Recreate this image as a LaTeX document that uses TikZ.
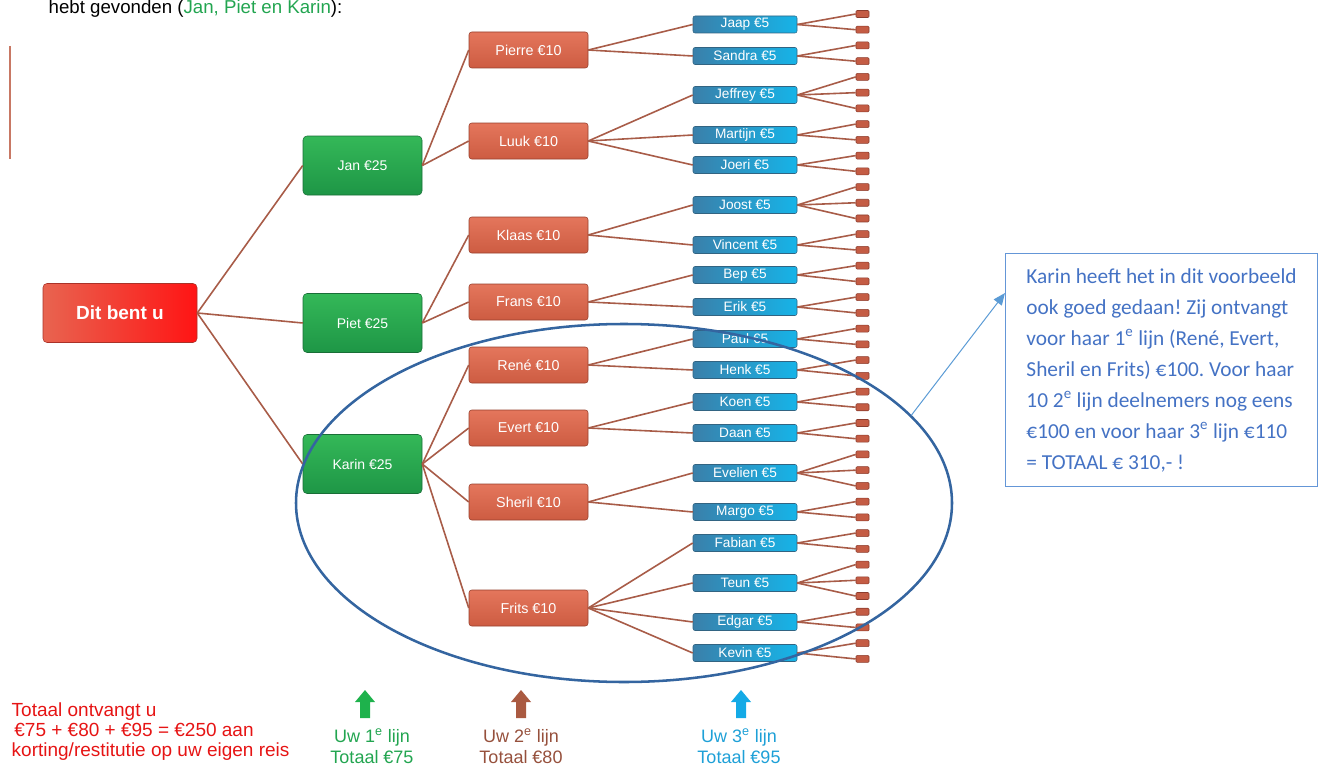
\documentclass[tikz,border=0pt]{standalone}
\usepackage{fontspec}
\setmainfont{Liberation Sans}
\newfontfamily\calibri{Carlito}
\usepackage{xcolor}
\usetikzlibrary{calc,shapes,arrows.meta}

\definecolor{lijnbruin}{RGB}{168,92,72}
\definecolor{kringblauw}{RGB}{52,101,160}
\definecolor{uitlegrand}{RGB}{100,150,215}
\definecolor{uitlegtekst}{RGB}{68,114,196}
\definecolor{uitlegpijl}{RGB}{91,155,213}
\definecolor{totaalrood}{RGB}{230,20,20}
\definecolor{groentekst}{RGB}{34,165,80}
\definecolor{groenpijl}{RGB}{30,178,76}
\definecolor{bruintekst}{RGB}{150,80,60}
\definecolor{bruinpijl}{RGB}{170,90,65}
\definecolor{cyaantekst}{RGB}{30,160,215}
\definecolor{cyaanpijl}{RGB}{20,170,230}
\definecolor{streep}{RGB}{200,120,100}

\tikzset{
  link/.style={draw=lijnbruin, line width=1.2pt},
  rootbox/.style={rectangle, rounded corners=3pt, draw={rgb,255:red,170;green,50;blue,40},
    left color={rgb,255:red,232;green,100;blue,80}, right color={rgb,255:red,255;green,20;blue,20},
    text=white, font=\fontsize{14.25}{16}\selectfont\bfseries,
    minimum width=115.5pt, minimum height=44.25pt, inner sep=0pt},
  lijneenbox/.style={rectangle, rounded corners=3pt, draw={rgb,255:red,25;green,110;blue,55},
    top color={rgb,255:red,52;green,184;blue,88}, bottom color={rgb,255:red,30;green,150;blue,70},
    text=white, font=\fontsize{10.5}{12}\selectfont,
    minimum width=89.25pt, minimum height=44.25pt, inner sep=0pt},
  lijntweebox/.style={rectangle, rounded corners=2pt, draw={rgb,255:red,150;green,64;blue,45},
    top color={rgb,255:red,228;green,118;blue,92}, bottom color={rgb,255:red,205;green,92;blue,66},
    text=white, font=\fontsize{10.75}{12}\selectfont,
    minimum width=89.25pt, minimum height=27pt, inner sep=0pt},
  lijndriebox/.style={rectangle, rounded corners=1.5pt, draw={rgb,255:red,50;green,100;blue,130},
    left color={rgb,255:red,58;green,128;blue,170}, right color={rgb,255:red,22;green,180;blue,232},
    text=white, font=\fontsize{10.25}{11}\selectfont,
    minimum width=78pt, minimum height=12.75pt, inner sep=0pt},
  bladbox/.style={rectangle, rounded corners=0.8pt, draw={rgb,255:red,140;green,60;blue,45},
    fill={rgb,255:red,196;green,92;blue,68}, minimum width=9.75pt, minimum height=5.25pt, inner sep=0pt},
  labeltekst/.style={align=center, font=\fontsize{13.5}{15.75}\selectfont}
}

\begin{document}
\begin{tikzpicture}[x=0.75pt,y=0.75pt,yscale=-1,xscale=1]
\useasboundingbox (0,0) rectangle (1324,767);

% Text Node
\node[anchor=base west, font=\fontsize{14}{16}\selectfont] (gevonden) at (44,14)
  {hebt gevonden (\textcolor{groentekst}{Jan, Piet en Karin}):};
%Straight Lines
\draw[streep, line width=2.2pt] (10,46) -- (10,159);

% Dit bent u
\node[rootbox] (jij) at (120,313) {Dit bent u};

% 1e lijn
\node[lijneenbox] (jan) at (362.5,165.5) {Jan €25};
\node[lijneenbox] (piet) at (362.5,323) {Piet €25};
\node[lijneenbox] (karin) at (362.5,464) {Karin €25};

% 2e lijn
\node[lijntweebox] (pierre) at (528.5,50) {Pierre €10};
\node[lijntweebox] (luuk) at (528.5,141) {Luuk €10};
\node[lijntweebox] (klaas) at (528.5,235) {Klaas €10};
\node[lijntweebox] (frans) at (528.5,302) {Frans €10};
\node[lijntweebox] (rene) at (528.5,365) {René €10};
\node[lijntweebox] (evert) at (528.5,428) {Evert €10};
\node[lijntweebox] (sheril) at (528.5,502) {Sheril €10};
\node[lijntweebox] (frits) at (528.5,608) {Frits €10};

% 3e lijn
\node[lijndriebox] (jaap) at (745,24.5) {Jaap €5};
\node[lijndriebox] (sandra) at (745,56) {Sandra €5};
\node[lijndriebox] (jeffrey) at (745,95) {Jeffrey €5};
\node[lijndriebox] (martijn) at (745,135) {Martijn €5};
\node[lijndriebox] (joeri) at (745,165) {Joeri €5};
\node[lijndriebox] (joost) at (745,205) {Joost €5};
\node[lijndriebox] (vincent) at (745,245) {Vincent €5};
\node[lijndriebox] (bep) at (745,275) {Bep €5};
\node[lijndriebox] (erik) at (745,307) {Erik €5};
\node[lijndriebox] (paul) at (745,339) {Paul €5};
\node[lijndriebox] (henk) at (745,370) {Henk €5};
\node[lijndriebox] (koen) at (745,402) {Koen €5};
\node[lijndriebox] (daan) at (745,433) {Daan €5};
\node[lijndriebox] (evelien) at (745,473) {Evelien €5};
\node[lijndriebox] (margo) at (745,512) {Margo €5};
\node[lijndriebox] (fabian) at (745,543) {Fabian €5};
\node[lijndriebox] (teun) at (745,583) {Teun €5};
\node[lijndriebox] (edgar) at (745,622) {Edgar €5};
\node[lijndriebox] (kevin) at (745,653) {Kevin €5};

% 4e lijn
\foreach \i in {0,...,41}
  \node[bladbox] (blad\i) at (862.5,{14+15.73*\i}) {};

%Straight Lines
\foreach \van/\naar in {jij/jan,jij/piet,jij/karin,jan/pierre,jan/luuk,piet/klaas,piet/frans,
    karin/rene,karin/evert,karin/sheril,karin/frits,pierre/jaap,pierre/sandra,
    luuk/jeffrey,luuk/martijn,luuk/joeri,klaas/joost,klaas/vincent,frans/bep,frans/erik,
    rene/paul,rene/henk,evert/koen,evert/daan,sheril/evelien,sheril/margo,
    frits/fabian,frits/teun,frits/edgar,frits/kevin}
  \draw[link] (\van.east) -- (\naar.west);
\foreach \van/\i in {jaap/0,jaap/1,sandra/2,sandra/3,jeffrey/4,jeffrey/5,jeffrey/6,
    martijn/7,martijn/8,joeri/9,joeri/10,joost/11,joost/12,joost/13,vincent/14,vincent/15,
    bep/16,bep/17,erik/18,erik/19,paul/20,paul/21,henk/22,henk/23,koen/24,koen/25,
    daan/26,daan/27,evelien/28,evelien/29,evelien/30,margo/31,margo/32,fabian/33,fabian/34,
    teun/35,teun/36,teun/37,edgar/38,edgar/39,kevin/40,kevin/41}
  \draw[link] (\van.east) -- (blad\i.west);

% Ellipse
\node[ellipse, draw=kringblauw, line width=1.9pt, minimum width=492pt, minimum height=268.5pt,
  inner sep=0pt] (kring) at (624,503) {};

% Text Node
\node[anchor=north west, draw=uitlegrand, line width=0.8pt, text=uitlegtekst, align=left,
  minimum width=234pt, minimum height=174.75pt,
  font=\calibri\fontsize{16}{23.25}\selectfont\frenchspacing] (uitleg) at (1005,253)
  {Karin heeft het in dit voorbeeld\\
   ook goed gedaan! Zij ontvangt\\
   voor haar 1\textsuperscript{e} lijn (René, Evert,\\
   Sheril en Frits) €100. Voor haar\\
   10 2\textsuperscript{e} lijn deelnemers nog eens\\
   €100 en voor haar 3\textsuperscript{e} lijn €110\\
   = TOTAAL € 310,- !};
\coordinate (tip) at ($(uitleg.north west)+(0,40)$);
\draw[uitlegpijl, line width=0.75pt, -{Triangle[length=9pt,width=7.5pt]}] (kring.17.6) -- (tip);

% Text Node
\node[anchor=north west, align=left, text=totaalrood, font=\fontsize{14.25}{15}\selectfont] (totaal) at (7,698)
  {Totaal ontvangt u\\
   \hspace{2pt}€75 + €80 + €95 = €250 aan\\
   korting/restitutie op uw eigen reis};

% Arrows and labels
\foreach \px/\kleur in {365/groenpijl,521/bruinpijl,741/cyaanpijl}
  \fill[\kleur] (\px-5,718) -- (\px-5,702) -- (\px-10,702) -- (\px,690) -- (\px+10,702)
    -- (\px+5,702) -- (\px+5,718) -- cycle;
\node[labeltekst, text=groentekst] (uw1) at (372,746) {Uw 1\textsuperscript{e} lijn\\Totaal €75};
\node[labeltekst, text=bruintekst] (uw2) at (521,746) {Uw 2\textsuperscript{e} lijn\\Totaal €80};
\node[labeltekst, text=cyaantekst] (uw3) at (739,746) {Uw 3\textsuperscript{e} lijn\\Totaal €95};

\end{tikzpicture}
\end{document}
